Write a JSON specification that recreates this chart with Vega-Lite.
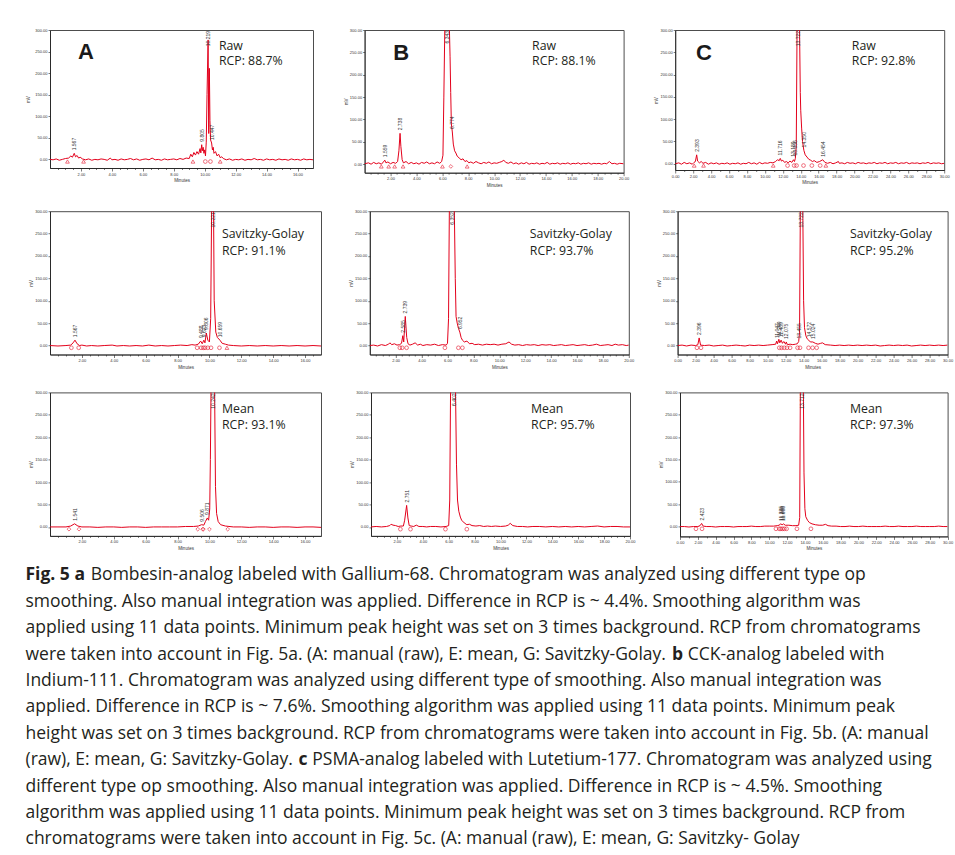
{
"$schema":"https://vega.github.io/schema/vega-lite/v6.json",
"background":"white",
"padding":{"left":25,"top":27,"right":5,"bottom":5},
"spacing":20.2,
"datasets":{
"a1":[{"t":0,"v":0},{"t":0.2,"v":-1},{"t":0.4,"v":1},{"t":0.6,"v":-2},{"t":0.8,"v":0},{"t":1,"v":2},{"t":1.2,"v":3},{"t":1.35,"v":8},{"t":1.45,"v":5},{"t":1.567,"v":14},{"t":1.65,"v":6},{"t":1.75,"v":9},{"t":1.85,"v":3},{"t":1.95,"v":5},{"t":2.1,"v":1},{"t":2.3,"v":-1},{"t":2.5,"v":1},{"t":2.7,"v":-2},{"t":2.9,"v":0},{"t":3.1,"v":-1},{"t":3.3,"v":1},{"t":3.5,"v":0},{"t":3.7,"v":-2},{"t":3.9,"v":3},{"t":4,"v":-1},{"t":4.2,"v":0},{"t":4.4,"v":-2},{"t":4.6,"v":1},{"t":4.8,"v":-1},{"t":5,"v":0},{"t":5.2,"v":2},{"t":5.4,"v":-1},{"t":5.6,"v":1},{"t":5.8,"v":-2},{"t":6,"v":0},{"t":6.2,"v":1},{"t":6.4,"v":-1},{"t":6.6,"v":3},{"t":6.8,"v":-1},{"t":7,"v":0},{"t":7.2,"v":-2},{"t":7.4,"v":1},{"t":7.6,"v":-1},{"t":7.8,"v":0},{"t":8,"v":1},{"t":8.2,"v":-1},{"t":8.4,"v":2},{"t":8.6,"v":0},{"t":8.8,"v":3},{"t":9,"v":2},{"t":9.1,"v":12},{"t":9.2,"v":6},{"t":9.3,"v":16},{"t":9.4,"v":10},{"t":9.5,"v":18},{"t":9.6,"v":12},{"t":9.7,"v":25},{"t":9.75,"v":15},{"t":9.805,"v":34},{"t":9.85,"v":20},{"t":9.9,"v":28},{"t":9.95,"v":14},{"t":10,"v":22},{"t":10.05,"v":8},{"t":10.1,"v":40},{"t":10.15,"v":150},{"t":10.219,"v":277},{"t":10.26,"v":60},{"t":10.3,"v":211},{"t":10.34,"v":90},{"t":10.38,"v":45},{"t":10.447,"v":38},{"t":10.5,"v":22},{"t":10.55,"v":28},{"t":10.6,"v":14},{"t":10.7,"v":18},{"t":10.8,"v":8},{"t":10.9,"v":12},{"t":11,"v":4},{"t":11.1,"v":6},{"t":11.2,"v":2},{"t":11.4,"v":-1},{"t":11.6,"v":1},{"t":11.8,"v":-2},{"t":12,"v":0},{"t":12.2,"v":-1},{"t":12.4,"v":1},{"t":12.6,"v":-2},{"t":12.8,"v":0},{"t":13,"v":-1},{"t":13.2,"v":2},{"t":13.4,"v":-1},{"t":13.6,"v":0},{"t":13.8,"v":-2},{"t":14,"v":1},{"t":14.2,"v":-1},{"t":14.4,"v":0},{"t":14.6,"v":-2},{"t":14.8,"v":1},{"t":15,"v":-1},{"t":15.2,"v":0},{"t":15.4,"v":-2},{"t":15.6,"v":1},{"t":15.8,"v":-1},{"t":16,"v":0},{"t":16.2,"v":-2},{"t":16.4,"v":1},{"t":16.6,"v":-1},{"t":16.8,"v":0},{"t":17,"v":-1}],
"a1m":[{"t":1.13,"v":-5,"k":"T"},{"t":2.17,"v":-5,"k":"T"},{"t":9.24,"v":-5,"k":"T"},{"t":10.04,"v":-5,"k":"C"},{"t":10.37,"v":-5,"k":"C"},{"t":11.0,"v":-5,"k":"T"}],
"a1p":[{"t":1.567,"v":14,"s":"1.567"},{"t":9.805,"v":34,"s":"9.805"},{"t":10.219,"v":300,"s":"10.219"},{"t":10.447,"v":38,"s":"10.447"}],
"a1n":[{"t":10.92,"v":263,"s":"Raw"},{"t":10.92,"v":228,"s":"RCP: 88.7%"}],
"a1l":[{"t":2.33,"v":249,"s":"A"}],
"b1":[{"t":0,"v":1},{"t":0.3,"v":3},{"t":0.5,"v":0},{"t":0.7,"v":4},{"t":0.9,"v":1},{"t":1.1,"v":3},{"t":1.3,"v":0},{"t":1.45,"v":5},{"t":1.559,"v":9},{"t":1.65,"v":3},{"t":1.8,"v":5},{"t":2,"v":1},{"t":2.2,"v":4},{"t":2.4,"v":2},{"t":2.55,"v":6},{"t":2.65,"v":30},{"t":2.738,"v":69},{"t":2.8,"v":40},{"t":2.9,"v":10},{"t":3,"v":3},{"t":3.2,"v":6},{"t":3.4,"v":1},{"t":3.6,"v":4},{"t":3.8,"v":1},{"t":4,"v":3},{"t":4.2,"v":0},{"t":4.4,"v":4},{"t":4.6,"v":2},{"t":4.8,"v":5},{"t":5,"v":1},{"t":5.2,"v":3},{"t":5.4,"v":1},{"t":5.6,"v":5},{"t":5.8,"v":2},{"t":5.95,"v":6},{"t":6.05,"v":20},{"t":6.12,"v":150},{"t":6.2,"v":320},{"t":6.34,"v":420},{"t":6.5,"v":330},{"t":6.55,"v":300},{"t":6.6,"v":240},{"t":6.65,"v":160},{"t":6.7,"v":90},{"t":6.774,"v":72},{"t":6.85,"v":45},{"t":6.95,"v":30},{"t":7.05,"v":25},{"t":7.15,"v":18},{"t":7.3,"v":14},{"t":7.45,"v":10},{"t":7.6,"v":12},{"t":7.75,"v":6},{"t":7.9,"v":8},{"t":8.05,"v":3},{"t":8.2,"v":5},{"t":8.4,"v":2},{"t":8.6,"v":6},{"t":8.8,"v":3},{"t":9,"v":1},{"t":9.2,"v":4},{"t":9.4,"v":2},{"t":9.6,"v":5},{"t":9.8,"v":1},{"t":10,"v":3},{"t":10.2,"v":2},{"t":10.4,"v":4},{"t":10.6,"v":6},{"t":10.75,"v":9},{"t":10.9,"v":4},{"t":11.1,"v":2},{"t":11.3,"v":5},{"t":11.5,"v":1},{"t":11.7,"v":3},{"t":11.9,"v":0},{"t":12.1,"v":3},{"t":12.3,"v":1},{"t":12.5,"v":4},{"t":12.7,"v":0},{"t":12.9,"v":2},{"t":13.1,"v":1},{"t":13.3,"v":3},{"t":13.5,"v":0},{"t":13.7,"v":2},{"t":13.9,"v":1},{"t":14.1,"v":4},{"t":14.3,"v":0},{"t":14.5,"v":2},{"t":14.7,"v":1},{"t":14.9,"v":3},{"t":15.1,"v":0},{"t":15.3,"v":2},{"t":15.5,"v":1},{"t":15.7,"v":3},{"t":15.9,"v":0},{"t":16.1,"v":2},{"t":16.3,"v":1},{"t":16.5,"v":3},{"t":16.7,"v":0},{"t":16.9,"v":2},{"t":17.1,"v":1},{"t":17.3,"v":3},{"t":17.5,"v":0},{"t":17.7,"v":2},{"t":17.9,"v":1},{"t":18.1,"v":2},{"t":18.3,"v":0},{"t":18.5,"v":2},{"t":18.7,"v":1},{"t":18.9,"v":6},{"t":19.1,"v":1},{"t":19.3,"v":2},{"t":19.5,"v":0},{"t":19.7,"v":2},{"t":20,"v":1}],
"b1m":[{"t":1.29,"v":-5,"k":"T"},{"t":1.86,"v":-5,"k":"T"},{"t":2.32,"v":-5,"k":"T"},{"t":2.97,"v":-5,"k":"T"},{"t":6.01,"v":-5,"k":"T"},{"t":6.66,"v":-5,"k":"D"},{"t":7.92,"v":-5,"k":"T"}],
"b1p":[{"t":1.559,"v":9,"s":"1.559"},{"t":2.738,"v":69,"s":"2.738"},{"t":6.343,"v":300,"s":"6.343"},{"t":6.774,"v":72,"s":"6.774"}],
"b1n":[{"t":12.93,"v":264,"s":"Raw"},{"t":12.93,"v":230.7,"s":"RCP: 88.1%"}],
"b1l":[{"t":2.83,"v":248.6,"s":"B"}],
"c1":[{"t":0,"v":0},{"t":0.4,"v":2},{"t":0.7,"v":-1},{"t":1,"v":3},{"t":1.3,"v":0},{"t":1.6,"v":2},{"t":1.9,"v":-1},{"t":2.1,"v":3},{"t":2.25,"v":5},{"t":2.393,"v":20},{"t":2.5,"v":6},{"t":2.7,"v":2},{"t":2.9,"v":5},{"t":3.1,"v":1},{"t":3.4,"v":3},{"t":3.7,"v":-1},{"t":4,"v":2},{"t":4.3,"v":0},{"t":4.6,"v":2},{"t":4.9,"v":-1},{"t":5.2,"v":1},{"t":5.5,"v":0},{"t":5.8,"v":2},{"t":6.1,"v":-1},{"t":6.4,"v":1},{"t":6.7,"v":0},{"t":7,"v":2},{"t":7.3,"v":-1},{"t":7.6,"v":1},{"t":7.9,"v":0},{"t":8.2,"v":3},{"t":8.5,"v":0},{"t":8.8,"v":2},{"t":9.1,"v":-1},{"t":9.4,"v":3},{"t":9.7,"v":0},{"t":10,"v":2},{"t":10.3,"v":1},{"t":10.6,"v":3},{"t":10.9,"v":2},{"t":11.2,"v":5},{"t":11.4,"v":9},{"t":11.6,"v":7},{"t":11.716,"v":12},{"t":11.85,"v":6},{"t":12,"v":8},{"t":12.2,"v":3},{"t":12.4,"v":5},{"t":12.6,"v":2},{"t":12.8,"v":6},{"t":13,"v":3},{"t":13.189,"v":9},{"t":13.3,"v":5},{"t":13.4,"v":12},{"t":13.5,"v":40},{"t":13.6,"v":330},{"t":13.72,"v":450},{"t":13.85,"v":330},{"t":13.95,"v":160},{"t":14,"v":120},{"t":14.1,"v":80},{"t":14.2,"v":50},{"t":14.35,"v":30},{"t":14.5,"v":20},{"t":14.7,"v":15},{"t":14.9,"v":10},{"t":15.1,"v":8},{"t":15.3,"v":5},{"t":15.5,"v":7},{"t":15.8,"v":3},{"t":16.1,"v":5},{"t":16.454,"v":9},{"t":16.7,"v":3},{"t":17,"v":1},{"t":17.3,"v":3},{"t":17.6,"v":0},{"t":17.9,"v":2},{"t":18.2,"v":5},{"t":18.3,"v":1},{"t":18.6,"v":2},{"t":18.9,"v":0},{"t":19.2,"v":3},{"t":19.5,"v":1},{"t":19.8,"v":2},{"t":20.1,"v":0},{"t":20.4,"v":3},{"t":20.7,"v":1},{"t":21,"v":2},{"t":21.3,"v":0},{"t":21.6,"v":2},{"t":21.9,"v":1},{"t":22.2,"v":3},{"t":22.5,"v":0},{"t":22.8,"v":2},{"t":23.1,"v":1},{"t":23.4,"v":3},{"t":23.7,"v":0},{"t":24,"v":2},{"t":24.3,"v":1},{"t":24.6,"v":3},{"t":24.9,"v":0},{"t":25.2,"v":2},{"t":25.5,"v":1},{"t":25.8,"v":3},{"t":26.1,"v":0},{"t":26.4,"v":2},{"t":26.7,"v":1},{"t":27,"v":2},{"t":27.3,"v":0},{"t":27.6,"v":2},{"t":27.9,"v":1},{"t":28.2,"v":3},{"t":28.5,"v":0},{"t":28.8,"v":2},{"t":29.1,"v":1},{"t":29.4,"v":2},{"t":29.7,"v":0},{"t":30,"v":1}],
"c1m":[{"t":2.12,"v":-4,"k":"T"},{"t":3.16,"v":-4,"k":"T"},{"t":10.93,"v":-4,"k":"T"},{"t":12.53,"v":-4,"k":"C"},{"t":13.27,"v":-4,"k":"C"},{"t":13.53,"v":-4,"k":"C"},{"t":14.31,"v":-4,"k":"C"},{"t":15.24,"v":-4,"k":"C"},{"t":16.17,"v":-4,"k":"C"},{"t":16.8,"v":-4,"k":"T"}],
"c1p":[{"t":2.393,"v":20,"s":"2.393"},{"t":11.716,"v":12,"s":"11.716"},{"t":13.189,"v":9,"s":"13.189"},{"t":13.4,"v":12,"s":"13.356"},{"t":13.722,"v":300,"s":"13.722"},{"t":14.35,"v":30,"s":"14.350"},{"t":16.454,"v":9,"s":"16.454"}],
"c1n":[{"t":19.7,"v":264,"s":"Raw"},{"t":19.7,"v":230.5,"s":"RCP: 92.8%"}],
"c1l":[{"t":3.2,"v":248.4,"s":"C"}],
"a2":[{"t":0,"v":0},{"t":0.5,"v":-1},{"t":1,"v":0},{"t":1.3,"v":1},{"t":1.45,"v":6},{"t":1.567,"v":12},{"t":1.7,"v":4},{"t":1.85,"v":0},{"t":2,"v":1},{"t":2.3,"v":-1},{"t":2.6,"v":0},{"t":3,"v":-1},{"t":3.4,"v":0},{"t":3.9,"v":1},{"t":4.2,"v":-1},{"t":4.6,"v":0},{"t":5,"v":-1},{"t":5.4,"v":0},{"t":5.8,"v":-1},{"t":6.2,"v":1},{"t":6.6,"v":-1},{"t":7,"v":0},{"t":7.4,"v":-1},{"t":7.8,"v":0},{"t":8.2,"v":1},{"t":8.6,"v":0},{"t":8.9,"v":2},{"t":9.1,"v":1},{"t":9.3,"v":3},{"t":9.45,"v":10},{"t":9.55,"v":4},{"t":9.65,"v":12},{"t":9.72,"v":6},{"t":9.806,"v":28},{"t":9.9,"v":12},{"t":10,"v":8},{"t":10.08,"v":60},{"t":10.15,"v":350},{"t":10.25,"v":350},{"t":10.3,"v":100},{"t":10.4,"v":30},{"t":10.5,"v":18},{"t":10.659,"v":12},{"t":10.8,"v":5},{"t":11,"v":3},{"t":11.2,"v":1},{"t":11.5,"v":0},{"t":12,"v":-1},{"t":12.5,"v":0},{"t":13,"v":-1},{"t":13.5,"v":0},{"t":14,"v":-1},{"t":14.5,"v":0},{"t":15,"v":-1},{"t":15.5,"v":0},{"t":16,"v":-1},{"t":16.5,"v":0},{"t":17,"v":-1}],
"a2m":[{"t":1.34,"v":-5,"k":"C"},{"t":1.8,"v":-5,"k":"C"},{"t":9.23,"v":-5,"k":"C"},{"t":9.48,"v":-5,"k":"C"},{"t":9.62,"v":-5,"k":"C"},{"t":9.73,"v":-5,"k":"C"},{"t":9.9,"v":-5,"k":"C"},{"t":10.1,"v":-5,"k":"C"},{"t":10.63,"v":-5,"k":"C"},{"t":11.1,"v":-5,"k":"T"}],
"a2p":[{"t":1.567,"v":12,"s":"1.567"},{"t":9.45,"v":10,"s":"9.488"},{"t":9.65,"v":12,"s":"9.623"},{"t":9.806,"v":28,"s":"9.806"},{"t":10.221,"v":300,"s":"10.221"},{"t":10.659,"v":12,"s":"10.659"}],
"a2n":[{"t":10.79,"v":249.5,"s":"Savitzky-Golay"},{"t":10.79,"v":212,"s":"RCP: 91.1%"}],
"b2":[{"t":0,"v":0},{"t":0.3,"v":1},{"t":0.6,"v":-1},{"t":0.9,"v":2},{"t":1.2,"v":0},{"t":1.45,"v":3},{"t":1.55,"v":6},{"t":1.7,"v":2},{"t":1.9,"v":4},{"t":2.1,"v":1},{"t":2.3,"v":2},{"t":2.45,"v":5},{"t":2.55,"v":22},{"t":2.62,"v":8},{"t":2.739,"v":65},{"t":2.85,"v":18},{"t":2.95,"v":4},{"t":3.1,"v":1},{"t":3.3,"v":3},{"t":3.5,"v":6},{"t":3.7,"v":1},{"t":3.9,"v":3},{"t":4.1,"v":0},{"t":4.4,"v":2},{"t":4.7,"v":1},{"t":5,"v":3},{"t":5.3,"v":0},{"t":5.6,"v":2},{"t":5.9,"v":1},{"t":6,"v":5},{"t":6.08,"v":60},{"t":6.15,"v":330},{"t":6.35,"v":450},{"t":6.52,"v":320},{"t":6.6,"v":150},{"t":6.66,"v":65},{"t":6.75,"v":50},{"t":6.85,"v":38},{"t":6.952,"v":30},{"t":7.05,"v":18},{"t":7.15,"v":12},{"t":7.3,"v":8},{"t":7.5,"v":10},{"t":7.7,"v":4},{"t":7.9,"v":5},{"t":8.1,"v":2},{"t":8.4,"v":3},{"t":8.7,"v":1},{"t":9,"v":3},{"t":9.3,"v":2},{"t":9.6,"v":3},{"t":9.9,"v":1},{"t":10.2,"v":3},{"t":10.5,"v":4},{"t":10.75,"v":8},{"t":10.95,"v":3},{"t":11.2,"v":1},{"t":11.5,"v":2},{"t":11.8,"v":0},{"t":12.1,"v":2},{"t":12.4,"v":1},{"t":12.7,"v":2},{"t":13,"v":0},{"t":13.3,"v":2},{"t":13.6,"v":1},{"t":13.9,"v":2},{"t":14.2,"v":0},{"t":14.5,"v":1},{"t":14.8,"v":2},{"t":15.1,"v":0},{"t":15.4,"v":1},{"t":15.7,"v":2},{"t":16,"v":0},{"t":16.3,"v":1},{"t":16.6,"v":2},{"t":16.9,"v":0},{"t":17.2,"v":1},{"t":17.5,"v":3},{"t":17.8,"v":0},{"t":18.1,"v":1},{"t":18.4,"v":2},{"t":18.7,"v":0},{"t":18.95,"v":3},{"t":19.2,"v":1},{"t":19.5,"v":2},{"t":19.8,"v":0},{"t":20,"v":1}],
"b2m":[{"t":2.32,"v":-5,"k":"C"},{"t":2.5,"v":-5,"k":"C"},{"t":2.84,"v":-5,"k":"C"},{"t":5.8,"v":-5,"k":"C"},{"t":6.84,"v":-5,"k":"C"},{"t":7.15,"v":-5,"k":"C"}],
"b2p":[{"t":2.55,"v":22,"s":"2.585"},{"t":2.739,"v":65,"s":"2.739"},{"t":6.352,"v":300,"s":"6.352"},{"t":6.952,"v":30,"s":"6.952"}],
"b2n":[{"t":12.36,"v":249.5,"s":"Savitzky-Golay"},{"t":12.36,"v":212,"s":"RCP: 93.7%"}],
"c2":[{"t":0,"v":0},{"t":0.5,"v":1},{"t":1,"v":-1},{"t":1.5,"v":1},{"t":2,"v":0},{"t":2.25,"v":2},{"t":2.396,"v":17},{"t":2.55,"v":1},{"t":3,"v":0},{"t":3.5,"v":1},{"t":4,"v":-1},{"t":4.5,"v":0},{"t":5,"v":1},{"t":5.5,"v":-1},{"t":6,"v":0},{"t":6.5,"v":1},{"t":7,"v":0},{"t":7.5,"v":-1},{"t":8,"v":1},{"t":8.5,"v":0},{"t":9,"v":1},{"t":9.5,"v":0},{"t":10,"v":1},{"t":10.5,"v":2},{"t":10.9,"v":3},{"t":11,"v":10},{"t":11.1,"v":4},{"t":11.25,"v":14},{"t":11.35,"v":6},{"t":11.5,"v":12},{"t":11.65,"v":5},{"t":11.8,"v":9},{"t":12,"v":3},{"t":12.075,"v":8},{"t":12.2,"v":2},{"t":12.5,"v":3},{"t":12.8,"v":2},{"t":13.1,"v":3},{"t":13.3,"v":4},{"t":13.455,"v":9},{"t":13.55,"v":30},{"t":13.65,"v":340},{"t":13.78,"v":450},{"t":13.9,"v":330},{"t":14,"v":100},{"t":14.1,"v":40},{"t":14.25,"v":22},{"t":14.4,"v":15},{"t":14.572,"v":12},{"t":14.75,"v":8},{"t":15.024,"v":8},{"t":15.3,"v":5},{"t":15.6,"v":3},{"t":15.9,"v":5},{"t":16.1,"v":6},{"t":16.4,"v":2},{"t":17,"v":1},{"t":17.5,"v":0},{"t":18,"v":1},{"t":18.5,"v":0},{"t":19,"v":1},{"t":19.5,"v":0},{"t":20,"v":1},{"t":20.5,"v":0},{"t":21,"v":1},{"t":21.5,"v":0},{"t":22,"v":1},{"t":22.5,"v":-1},{"t":23,"v":0},{"t":23.5,"v":1},{"t":24,"v":0},{"t":24.5,"v":1},{"t":25,"v":0},{"t":25.5,"v":1},{"t":26,"v":-1},{"t":26.5,"v":0},{"t":27,"v":1},{"t":27.5,"v":0},{"t":28,"v":1},{"t":28.5,"v":0},{"t":29,"v":1},{"t":29.5,"v":0},{"t":30,"v":1}],
"c2m":[{"t":2.15,"v":-5,"k":"C"},{"t":2.6,"v":-5,"k":"C"},{"t":11.3,"v":-5,"k":"C"},{"t":11.55,"v":-5,"k":"C"},{"t":11.85,"v":-5,"k":"C"},{"t":12.15,"v":-5,"k":"C"},{"t":12.5,"v":-5,"k":"C"},{"t":13.33,"v":-5,"k":"C"},{"t":13.6,"v":-5,"k":"C"},{"t":14.55,"v":-5,"k":"C"},{"t":15.0,"v":-5,"k":"C"},{"t":15.45,"v":-5,"k":"C"}],
"c2p":[{"t":2.396,"v":17,"s":"2.396"},{"t":11.0,"v":10,"s":"11.047"},{"t":11.25,"v":14,"s":"11.249"},{"t":11.5,"v":12,"s":"11.489"},{"t":12.075,"v":8,"s":"12.075"},{"t":13.455,"v":9,"s":"13.455"},{"t":13.722,"v":300,"s":"13.722"},{"t":14.572,"v":12,"s":"14.572"},{"t":15.024,"v":8,"s":"15.024"}],
"c2n":[{"t":19.15,"v":249.5,"s":"Savitzky-Golay"},{"t":19.15,"v":212,"s":"RCP: 95.2%"}],
"a3":[{"t":0,"v":0},{"t":0.5,"v":0},{"t":1,"v":0},{"t":1.3,"v":2},{"t":1.541,"v":7},{"t":1.75,"v":2},{"t":2,"v":0},{"t":2.5,"v":0},{"t":3,"v":-1},{"t":3.5,"v":0},{"t":4,"v":0},{"t":4.5,"v":-1},{"t":5,"v":0},{"t":5.5,"v":0},{"t":6,"v":-1},{"t":6.5,"v":0},{"t":7,"v":0},{"t":7.5,"v":0},{"t":8,"v":0},{"t":8.5,"v":1},{"t":9,"v":1},{"t":9.3,"v":2},{"t":9.506,"v":5},{"t":9.65,"v":4},{"t":9.75,"v":12},{"t":9.871,"v":20},{"t":9.95,"v":15},{"t":10.02,"v":40},{"t":10.06,"v":150},{"t":10.12,"v":380},{"t":10.22,"v":450},{"t":10.32,"v":330},{"t":10.38,"v":90},{"t":10.45,"v":30},{"t":10.55,"v":12},{"t":10.7,"v":5},{"t":11,"v":2},{"t":11.5,"v":0},{"t":12,"v":0},{"t":12.5,"v":-1},{"t":13,"v":0},{"t":13.5,"v":0},{"t":14,"v":-1},{"t":14.5,"v":0},{"t":15,"v":0},{"t":15.5,"v":-1},{"t":16,"v":0},{"t":16.5,"v":0},{"t":17,"v":-1}],
"a3m":[{"t":1.19,"v":-5,"k":"D"},{"t":1.82,"v":-5,"k":"D"},{"t":9.27,"v":-5,"k":"D"},{"t":9.58,"v":-5,"k":"D"},{"t":9.62,"v":-5,"k":"D"},{"t":10.0,"v":-5,"k":"D"},{"t":11.15,"v":-5,"k":"D"}],
"a3p":[{"t":1.541,"v":7,"s":"1.541"},{"t":9.506,"v":5,"s":"9.506"},{"t":9.871,"v":20,"s":"9.871"},{"t":10.242,"v":300,"s":"10.242"}],
"a3n":[{"t":10.79,"v":264,"s":"Mean"},{"t":10.79,"v":227,"s":"RCP: 93.1%"}],
"b3":[{"t":0,"v":0},{"t":0.4,"v":1},{"t":0.8,"v":0},{"t":1.2,"v":1},{"t":1.45,"v":3},{"t":1.55,"v":6},{"t":1.7,"v":4},{"t":1.9,"v":3},{"t":2.1,"v":1},{"t":2.3,"v":2},{"t":2.5,"v":2},{"t":2.6,"v":15},{"t":2.751,"v":48},{"t":2.85,"v":20},{"t":2.95,"v":3},{"t":3.1,"v":2},{"t":3.3,"v":1},{"t":3.5,"v":4},{"t":3.7,"v":1},{"t":4,"v":1},{"t":4.3,"v":0},{"t":4.6,"v":1},{"t":5,"v":1},{"t":5.4,"v":0},{"t":5.8,"v":1},{"t":6,"v":3},{"t":6.08,"v":60},{"t":6.15,"v":330},{"t":6.35,"v":450},{"t":6.52,"v":320},{"t":6.6,"v":140},{"t":6.68,"v":60},{"t":6.78,"v":35},{"t":6.9,"v":22},{"t":7,"v":15},{"t":7.2,"v":9},{"t":7.4,"v":5},{"t":7.6,"v":6},{"t":7.8,"v":3},{"t":8.1,"v":2},{"t":8.4,"v":3},{"t":8.7,"v":1},{"t":9,"v":2},{"t":9.3,"v":1},{"t":9.6,"v":2},{"t":10,"v":1},{"t":10.4,"v":2},{"t":10.6,"v":4},{"t":10.75,"v":8},{"t":10.95,"v":3},{"t":11.3,"v":1},{"t":11.7,"v":1},{"t":12.1,"v":0},{"t":12.5,"v":1},{"t":13,"v":1},{"t":13.5,"v":0},{"t":14,"v":1},{"t":14.5,"v":0},{"t":15,"v":1},{"t":15.5,"v":0},{"t":16,"v":1},{"t":16.5,"v":0},{"t":17,"v":1},{"t":17.5,"v":2},{"t":18,"v":0},{"t":18.5,"v":1},{"t":19,"v":1},{"t":19.5,"v":0},{"t":20,"v":0}],
"b3m":[{"t":2.27,"v":-5,"k":"C"},{"t":3.05,"v":-5,"k":"C"},{"t":5.75,"v":-5,"k":"C"},{"t":7.4,"v":-5,"k":"C"}],
"b3p":[{"t":2.751,"v":48,"s":"2.751"},{"t":6.402,"v":300,"s":"6.402"}],
"b3n":[{"t":12.36,"v":264,"s":"Mean"},{"t":12.36,"v":227,"s":"RCP: 95.7%"}],
"c3":[{"t":0,"v":0},{"t":0.5,"v":0},{"t":1,"v":-1},{"t":1.5,"v":0},{"t":2,"v":0},{"t":2.25,"v":2},{"t":2.423,"v":7},{"t":2.6,"v":1},{"t":3,"v":0},{"t":3.5,"v":0},{"t":4,"v":-1},{"t":4.5,"v":0},{"t":5,"v":0},{"t":5.5,"v":0},{"t":6,"v":-1},{"t":6.5,"v":0},{"t":7,"v":0},{"t":7.5,"v":0},{"t":8,"v":1},{"t":8.5,"v":0},{"t":9,"v":0},{"t":9.5,"v":1},{"t":10,"v":1},{"t":10.5,"v":1},{"t":10.9,"v":2},{"t":11.1,"v":3},{"t":11.3,"v":6},{"t":11.45,"v":4},{"t":11.6,"v":6},{"t":11.8,"v":3},{"t":12.2,"v":3},{"t":12.6,"v":2},{"t":13,"v":2},{"t":13.3,"v":3},{"t":13.42,"v":20},{"t":13.5,"v":330},{"t":13.65,"v":450},{"t":13.82,"v":330},{"t":13.9,"v":120},{"t":14,"v":40},{"t":14.1,"v":22},{"t":14.3,"v":14},{"t":14.5,"v":9},{"t":14.8,"v":6},{"t":15.2,"v":4},{"t":15.6,"v":3},{"t":16,"v":3},{"t":16.3,"v":5},{"t":16.6,"v":2},{"t":17,"v":1},{"t":17.5,"v":1},{"t":18,"v":0},{"t":18.5,"v":0},{"t":19,"v":1},{"t":19.5,"v":0},{"t":20,"v":0},{"t":20.5,"v":1},{"t":21,"v":0},{"t":21.5,"v":0},{"t":22,"v":0},{"t":22.5,"v":0},{"t":23,"v":1},{"t":23.5,"v":0},{"t":24,"v":0},{"t":24.5,"v":1},{"t":25,"v":0},{"t":25.5,"v":0},{"t":26,"v":0},{"t":26.5,"v":1},{"t":27,"v":0},{"t":27.5,"v":0},{"t":28,"v":0},{"t":28.5,"v":0},{"t":29,"v":1},{"t":29.5,"v":0},{"t":30,"v":0}],
"c3m":[{"t":1.79,"v":-5,"k":"C"},{"t":2.47,"v":-5,"k":"C"},{"t":10.76,"v":-5,"k":"C"},{"t":11.13,"v":-5,"k":"C"},{"t":11.3,"v":-5,"k":"C"},{"t":11.5,"v":-5,"k":"C"},{"t":11.7,"v":-5,"k":"C"},{"t":11.95,"v":-5,"k":"C"},{"t":13.11,"v":-5,"k":"C"},{"t":14.68,"v":-5,"k":"C"}],
"c3p":[{"t":2.423,"v":7,"s":"2.423"},{"t":11.3,"v":6,"s":"11.335"},{"t":11.4,"v":6,"s":"11.366"},{"t":11.6,"v":6,"s":"11.608"},{"t":13.712,"v":300,"s":"13.712"}],
"c3n":[{"t":19.06,"v":263,"s":"Mean"},{"t":19.06,"v":226,"s":"RCP: 97.3%"}],
"cap":[
{"line":1,"seg":"b0","text":"Fig. 5 a"},
{"line":1,"seg":"n1","text":"Bombesin-analog labeled with Gallium-68. Chromatogram was analyzed using different type op"},
{"line":2,"seg":"n0","text":"smoothing. Also manual integration was applied. Difference in RCP is ~ 4.4%. Smoothing algorithm was"},
{"line":3,"seg":"n0","text":"applied using 11 data points. Minimum peak height was set on 3 times background. RCP from chromatograms"},
{"line":4,"seg":"n0","text":"were taken into account in Fig. 5a. (A: manual (raw), E: mean, G: Savitzky-Golay."},
{"line":4,"seg":"bb","text":"b"},
{"line":4,"seg":"nb","text":"CCK-analog labeled with"},
{"line":5,"seg":"n0","text":"Indium-111. Chromatogram was analyzed using different type of smoothing. Also manual integration was"},
{"line":6,"seg":"n0","text":"applied. Difference in RCP is ~ 7.6%. Smoothing algorithm was applied using 11 data points. Minimum peak"},
{"line":7,"seg":"n0","text":"height was set on 3 times background. RCP from chromatograms were taken into account in Fig. 5b. (A: manual"},
{"line":8,"seg":"n0","text":"(raw), E: mean, G: Savitzky-Golay."},
{"line":8,"seg":"bc","text":"c"},
{"line":8,"seg":"nc","text":"PSMA-analog labeled with Lutetium-177. Chromatogram was analyzed using"},
{"line":9,"seg":"n0","text":"different type op smoothing. Also manual integration was applied. Difference in RCP is ~ 4.5%. Smoothing"},
{"line":10,"seg":"n0","text":"algorithm was applied using 11 data points. Minimum peak height was set on 3 times background. RCP from"},
{"line":11,"seg":"n0","text":"chromatograms were taken into account in Fig. 5c. (A: manual (raw), E: mean, G: Savitzky- Golay"}
]
},
"vconcat":[
{"bounds":"flush","spacing":51.6,"hconcat":[
{"width":263,"height":138,"layer":[
{"data":{"name":"a1"},"mark":{"type":"line","color":"#e3001b","strokeWidth":1,"clip":true},"encoding":{"x":{"field":"t","type":"quantitative","scale":{"domain":[0,17],"nice":false,"zero":false},"axis":{"title":"Minutes","tickCount":100,"values":[0.5,1,1.5,2,2.5,3,3.5,4,4.5,5,5.5,6,6.5,7,7.5,8,8.5,9,9.5,10,10.5,11,11.5,12,12.5,13,13.5,14,14.5,15,15.5,16,16.5],"labelExpr":"datum.value % 2 === 0 ? format(datum.value, '.2f') : ''","tickSize":{"condition":{"test":"datum.value % 2 === 0","value":3},"value":1.5}}},"y":{"field":"v","type":"quantitative","scale":{"domain":[-20,300],"nice":false,"zero":false},"axis":{"title":"mV","tickCount":100,"titlePadding":4,"values":[0,50,100,150,200,250,300],"format":".2f"}}}},
{"data":{"name":"a1m"},"mark":{"type":"point","filled":false,"color":"#e3001b","size":14,"strokeWidth":0.8},"encoding":{"x":{"field":"t","type":"quantitative"},"y":{"field":"v","type":"quantitative"},"shape":{"field":"k","type":"nominal","scale":{"domain":["T","C","D"],"range":["triangle-up","circle","diamond"]},"legend":null}}},
{"data":{"name":"a1p"},"transform":[{"filter":"datum.v < 300"}],"mark":{"type":"text","angle":270,"align":"left","baseline":"middle","dx":3,"fontSize":5,"font":"Liberation Sans","color":"#333"},"encoding":{"x":{"field":"t","type":"quantitative"},"y":{"field":"v","type":"quantitative"},"text":{"field":"s","type":"nominal"}}},
{"data":{"name":"a1p"},"transform":[{"filter":"datum.v >= 300"}],"mark":{"type":"text","angle":270,"align":"right","baseline":"middle","dx":-1,"fontSize":5,"font":"Liberation Sans","color":"#333"},"encoding":{"x":{"field":"t","type":"quantitative"},"y":{"field":"v","type":"quantitative"},"text":{"field":"s","type":"nominal"}}},
{"data":{"name":"a1n"},"mark":{"type":"text","align":"left","baseline":"middle","fontSize":12.3,"font":"Open Sans","color":"#231f20"},"encoding":{"x":{"field":"t","type":"quantitative"},"y":{"field":"v","type":"quantitative"},"text":{"field":"s","type":"nominal"}}},
{"data":{"name":"a1l"},"mark":{"type":"text","align":"center","baseline":"middle","fontSize":22,"fontWeight":"bold","font":"Liberation Sans","color":"#1a1a1a"},"encoding":{"x":{"field":"t","type":"quantitative"},"y":{"field":"v","type":"quantitative"},"text":{"field":"s","type":"nominal"}}}
]},
{"width":259,"height":142.7,"layer":[
{"data":{"name":"b1"},"mark":{"type":"line","color":"#e3001b","strokeWidth":1,"clip":true},"encoding":{"x":{"field":"t","type":"quantitative","scale":{"domain":[0,20],"nice":false,"zero":false},"axis":{"title":"Minutes","tickCount":100,"values":[0.5,1,1.5,2,2.5,3,3.5,4,4.5,5,5.5,6,6.5,7,7.5,8,8.5,9,9.5,10,10.5,11,11.5,12,12.5,13,13.5,14,14.5,15,15.5,16,16.5,17,17.5,18,18.5,19,19.5,20],"labelExpr":"datum.value % 2 === 0 ? format(datum.value, '.2f') : ''","tickSize":{"condition":{"test":"datum.value % 2 === 0","value":3},"value":1.5}}},"y":{"field":"v","type":"quantitative","scale":{"domain":[-19,300],"nice":false,"zero":false},"axis":{"title":"mV","tickCount":100,"values":[0,50,100,150,200,250,300],"format":".2f"}}}},
{"data":{"name":"b1m"},"mark":{"type":"point","filled":false,"color":"#e3001b","size":14,"strokeWidth":0.8},"encoding":{"x":{"field":"t","type":"quantitative"},"y":{"field":"v","type":"quantitative"},"shape":{"field":"k","type":"nominal","scale":{"domain":["T","C","D"],"range":["triangle-up","circle","diamond"]},"legend":null}}},
{"data":{"name":"b1p"},"transform":[{"filter":"datum.v < 300"}],"mark":{"type":"text","angle":270,"align":"left","baseline":"middle","dx":3,"fontSize":5,"font":"Liberation Sans","color":"#333"},"encoding":{"x":{"field":"t","type":"quantitative"},"y":{"field":"v","type":"quantitative"},"text":{"field":"s","type":"nominal"}}},
{"data":{"name":"b1p"},"transform":[{"filter":"datum.v >= 300"}],"mark":{"type":"text","angle":270,"align":"right","baseline":"middle","dx":-1,"fontSize":5,"font":"Liberation Sans","color":"#333"},"encoding":{"x":{"field":"t","type":"quantitative"},"y":{"field":"v","type":"quantitative"},"text":{"field":"s","type":"nominal"}}},
{"data":{"name":"b1n"},"mark":{"type":"text","align":"left","baseline":"middle","fontSize":12.3,"font":"Open Sans","color":"#231f20"},"encoding":{"x":{"field":"t","type":"quantitative"},"y":{"field":"v","type":"quantitative"},"text":{"field":"s","type":"nominal"}}},
{"data":{"name":"b1l"},"mark":{"type":"text","align":"center","baseline":"middle","fontSize":22,"fontWeight":"bold","font":"Liberation Sans","color":"#1a1a1a"},"encoding":{"x":{"field":"t","type":"quantitative"},"y":{"field":"v","type":"quantitative"},"text":{"field":"s","type":"nominal"}}}
]},
{"width":269,"height":140,"layer":[
{"data":{"name":"c1"},"mark":{"type":"line","color":"#e3001b","strokeWidth":1,"clip":true},"encoding":{"x":{"field":"t","type":"quantitative","scale":{"domain":[0,30],"nice":false,"zero":false},"axis":{"title":"Minutes","tickCount":100,"values":[0,1,2,3,4,5,6,7,8,9,10,11,12,13,14,15,16,17,18,19,20,21,22,23,24,25,26,27,28,29,30],"labelExpr":"datum.value % 2 === 0 ? format(datum.value, '.2f') : ''","tickSize":{"condition":{"test":"datum.value % 2 === 0","value":3},"value":1.5}}},"y":{"field":"v","type":"quantitative","scale":{"domain":[-14,300],"nice":false,"zero":false},"axis":{"title":"mV","tickCount":100,"values":[0,50,100,150,200,250,300],"format":".2f"}}}},
{"data":{"name":"c1m"},"mark":{"type":"point","filled":false,"color":"#e3001b","size":14,"strokeWidth":0.8},"encoding":{"x":{"field":"t","type":"quantitative"},"y":{"field":"v","type":"quantitative"},"shape":{"field":"k","type":"nominal","scale":{"domain":["T","C","D"],"range":["triangle-up","circle","diamond"]},"legend":null}}},
{"data":{"name":"c1p"},"transform":[{"filter":"datum.v < 300"}],"mark":{"type":"text","angle":270,"align":"left","baseline":"middle","dx":3,"fontSize":5,"font":"Liberation Sans","color":"#333"},"encoding":{"x":{"field":"t","type":"quantitative"},"y":{"field":"v","type":"quantitative"},"text":{"field":"s","type":"nominal"}}},
{"data":{"name":"c1p"},"transform":[{"filter":"datum.v >= 300"}],"mark":{"type":"text","angle":270,"align":"right","baseline":"middle","dx":-1,"fontSize":5,"font":"Liberation Sans","color":"#333"},"encoding":{"x":{"field":"t","type":"quantitative"},"y":{"field":"v","type":"quantitative"},"text":{"field":"s","type":"nominal"}}},
{"data":{"name":"c1n"},"mark":{"type":"text","align":"left","baseline":"middle","fontSize":12.3,"font":"Open Sans","color":"#231f20"},"encoding":{"x":{"field":"t","type":"quantitative"},"y":{"field":"v","type":"quantitative"},"text":{"field":"s","type":"nominal"}}},
{"data":{"name":"c1l"},"mark":{"type":"text","align":"center","baseline":"middle","fontSize":22,"fontWeight":"bold","font":"Liberation Sans","color":"#1a1a1a"},"encoding":{"x":{"field":"t","type":"quantitative"},"y":{"field":"v","type":"quantitative"},"text":{"field":"s","type":"nominal"}}}
]}
]},
{"bounds":"flush","spacing":48.8,"hconcat":[
{"width":271,"height":143.3,"layer":[
{"data":{"name":"a2"},"mark":{"type":"line","color":"#e3001b","strokeWidth":1,"clip":true},"encoding":{"x":{"field":"t","type":"quantitative","scale":{"domain":[0,17],"nice":false,"zero":false},"axis":{"title":"Minutes","tickCount":100,"values":[0.5,1,1.5,2,2.5,3,3.5,4,4.5,5,5.5,6,6.5,7,7.5,8,8.5,9,9.5,10,10.5,11,11.5,12,12.5,13,13.5,14,14.5,15,15.5,16,16.5],"labelExpr":"datum.value % 2 === 0 ? format(datum.value, '.2f') : ''","tickSize":{"condition":{"test":"datum.value % 2 === 0","value":3},"value":1.5}}},"y":{"field":"v","type":"quantitative","scale":{"domain":[-20,300],"nice":false,"zero":false},"axis":{"title":"mV","tickCount":100,"values":[0,50,100,150,200,250,300],"format":".2f"}}}},
{"data":{"name":"a2m"},"mark":{"type":"point","filled":false,"color":"#e3001b","size":14,"strokeWidth":0.8},"encoding":{"x":{"field":"t","type":"quantitative"},"y":{"field":"v","type":"quantitative"},"shape":{"field":"k","type":"nominal","scale":{"domain":["T","C","D"],"range":["triangle-up","circle","diamond"]},"legend":null}}},
{"data":{"name":"a2p"},"transform":[{"filter":"datum.v < 300"}],"mark":{"type":"text","angle":270,"align":"left","baseline":"middle","dx":3,"fontSize":5,"font":"Liberation Sans","color":"#333"},"encoding":{"x":{"field":"t","type":"quantitative"},"y":{"field":"v","type":"quantitative"},"text":{"field":"s","type":"nominal"}}},
{"data":{"name":"a2p"},"transform":[{"filter":"datum.v >= 300"}],"mark":{"type":"text","angle":270,"align":"right","baseline":"middle","dx":-1,"fontSize":5,"font":"Liberation Sans","color":"#333"},"encoding":{"x":{"field":"t","type":"quantitative"},"y":{"field":"v","type":"quantitative"},"text":{"field":"s","type":"nominal"}}},
{"data":{"name":"a2n"},"mark":{"type":"text","align":"left","baseline":"middle","fontSize":12.3,"font":"Open Sans","color":"#231f20"},"encoding":{"x":{"field":"t","type":"quantitative"},"y":{"field":"v","type":"quantitative"},"text":{"field":"s","type":"nominal"}}}
]},
{"width":259,"height":143.3,"layer":[
{"data":{"name":"b2"},"mark":{"type":"line","color":"#e3001b","strokeWidth":1,"clip":true},"encoding":{"x":{"field":"t","type":"quantitative","scale":{"domain":[0,20],"nice":false,"zero":false},"axis":{"title":"Minutes","tickCount":100,"values":[0.5,1,1.5,2,2.5,3,3.5,4,4.5,5,5.5,6,6.5,7,7.5,8,8.5,9,9.5,10,10.5,11,11.5,12,12.5,13,13.5,14,14.5,15,15.5,16,16.5,17,17.5,18,18.5,19,19.5,20],"labelExpr":"datum.value % 2 === 0 ? format(datum.value, '.2f') : ''","tickSize":{"condition":{"test":"datum.value % 2 === 0","value":3},"value":1.5}}},"y":{"field":"v","type":"quantitative","scale":{"domain":[-20,300],"nice":false,"zero":false},"axis":{"title":"mV","tickCount":100,"values":[0,50,100,150,200,250,300],"format":".2f"}}}},
{"data":{"name":"b2m"},"mark":{"type":"point","filled":false,"color":"#e3001b","size":14,"strokeWidth":0.8},"encoding":{"x":{"field":"t","type":"quantitative"},"y":{"field":"v","type":"quantitative"},"shape":{"field":"k","type":"nominal","scale":{"domain":["T","C","D"],"range":["triangle-up","circle","diamond"]},"legend":null}}},
{"data":{"name":"b2p"},"transform":[{"filter":"datum.v < 300"}],"mark":{"type":"text","angle":270,"align":"left","baseline":"middle","dx":3,"fontSize":5,"font":"Liberation Sans","color":"#333"},"encoding":{"x":{"field":"t","type":"quantitative"},"y":{"field":"v","type":"quantitative"},"text":{"field":"s","type":"nominal"}}},
{"data":{"name":"b2p"},"transform":[{"filter":"datum.v >= 300"}],"mark":{"type":"text","angle":270,"align":"right","baseline":"middle","dx":-1,"fontSize":5,"font":"Liberation Sans","color":"#333"},"encoding":{"x":{"field":"t","type":"quantitative"},"y":{"field":"v","type":"quantitative"},"text":{"field":"s","type":"nominal"}}},
{"data":{"name":"b2n"},"mark":{"type":"text","align":"left","baseline":"middle","fontSize":12.3,"font":"Open Sans","color":"#231f20"},"encoding":{"x":{"field":"t","type":"quantitative"},"y":{"field":"v","type":"quantitative"},"text":{"field":"s","type":"nominal"}}}
]},
{"width":270,"height":143.3,"layer":[
{"data":{"name":"c2"},"mark":{"type":"line","color":"#e3001b","strokeWidth":1,"clip":true},"encoding":{"x":{"field":"t","type":"quantitative","scale":{"domain":[0,30],"nice":false,"zero":false},"axis":{"title":"Minutes","tickCount":100,"values":[0,1,2,3,4,5,6,7,8,9,10,11,12,13,14,15,16,17,18,19,20,21,22,23,24,25,26,27,28,29,30],"labelExpr":"datum.value % 2 === 0 ? format(datum.value, '.2f') : ''","tickSize":{"condition":{"test":"datum.value % 2 === 0","value":3},"value":1.5}}},"y":{"field":"v","type":"quantitative","scale":{"domain":[-20,300],"nice":false,"zero":false},"axis":{"title":"mV","tickCount":100,"values":[0,50,100,150,200,250,300],"format":".2f"}}}},
{"data":{"name":"c2m"},"mark":{"type":"point","filled":false,"color":"#e3001b","size":14,"strokeWidth":0.8},"encoding":{"x":{"field":"t","type":"quantitative"},"y":{"field":"v","type":"quantitative"},"shape":{"field":"k","type":"nominal","scale":{"domain":["T","C","D"],"range":["triangle-up","circle","diamond"]},"legend":null}}},
{"data":{"name":"c2p"},"transform":[{"filter":"datum.v < 300"}],"mark":{"type":"text","angle":270,"align":"left","baseline":"middle","dx":3,"fontSize":5,"font":"Liberation Sans","color":"#333"},"encoding":{"x":{"field":"t","type":"quantitative"},"y":{"field":"v","type":"quantitative"},"text":{"field":"s","type":"nominal"}}},
{"data":{"name":"c2p"},"transform":[{"filter":"datum.v >= 300"}],"mark":{"type":"text","angle":270,"align":"right","baseline":"middle","dx":-1,"fontSize":5,"font":"Liberation Sans","color":"#333"},"encoding":{"x":{"field":"t","type":"quantitative"},"y":{"field":"v","type":"quantitative"},"text":{"field":"s","type":"nominal"}}},
{"data":{"name":"c2n"},"mark":{"type":"text","align":"left","baseline":"middle","fontSize":12.3,"font":"Open Sans","color":"#231f20"},"encoding":{"x":{"field":"t","type":"quantitative"},"y":{"field":"v","type":"quantitative"},"text":{"field":"s","type":"nominal"}}}
]}
]},
{"spacing":15,"vconcat":[
{"bounds":"flush","spacing":50,"hconcat":[
{"width":271,"height":143.5,"layer":[
{"data":{"name":"a3"},"mark":{"type":"line","color":"#e3001b","strokeWidth":1,"clip":true},"encoding":{"x":{"field":"t","type":"quantitative","scale":{"domain":[0,17],"nice":false,"zero":false},"axis":{"title":"Minutes","tickCount":100,"values":[0.5,1,1.5,2,2.5,3,3.5,4,4.5,5,5.5,6,6.5,7,7.5,8,8.5,9,9.5,10,10.5,11,11.5,12,12.5,13,13.5,14,14.5,15,15.5,16,16.5],"labelExpr":"datum.value % 2 === 0 ? format(datum.value, '.2f') : ''","tickSize":{"condition":{"test":"datum.value % 2 === 0","value":3},"value":1.5}}},"y":{"field":"v","type":"quantitative","scale":{"domain":[-20,300],"nice":false,"zero":false},"axis":{"title":"mV","tickCount":100,"values":[0,50,100,150,200,250,300],"format":".2f"}}}},
{"data":{"name":"a3m"},"mark":{"type":"point","filled":false,"color":"#e3001b","size":14,"strokeWidth":0.8},"encoding":{"x":{"field":"t","type":"quantitative"},"y":{"field":"v","type":"quantitative"},"shape":{"field":"k","type":"nominal","scale":{"domain":["T","C","D"],"range":["triangle-up","circle","diamond"]},"legend":null}}},
{"data":{"name":"a3p"},"transform":[{"filter":"datum.v < 300"}],"mark":{"type":"text","angle":270,"align":"left","baseline":"middle","dx":3,"fontSize":5,"font":"Liberation Sans","color":"#333"},"encoding":{"x":{"field":"t","type":"quantitative"},"y":{"field":"v","type":"quantitative"},"text":{"field":"s","type":"nominal"}}},
{"data":{"name":"a3p"},"transform":[{"filter":"datum.v >= 300"}],"mark":{"type":"text","angle":270,"align":"right","baseline":"middle","dx":-1,"fontSize":5,"font":"Liberation Sans","color":"#333"},"encoding":{"x":{"field":"t","type":"quantitative"},"y":{"field":"v","type":"quantitative"},"text":{"field":"s","type":"nominal"}}},
{"data":{"name":"a3n"},"mark":{"type":"text","align":"left","baseline":"middle","fontSize":12.3,"font":"Open Sans","color":"#231f20"},"encoding":{"x":{"field":"t","type":"quantitative"},"y":{"field":"v","type":"quantitative"},"text":{"field":"s","type":"nominal"}}}
]},
{"width":259,"height":143.5,"layer":[
{"data":{"name":"b3"},"mark":{"type":"line","color":"#e3001b","strokeWidth":1,"clip":true},"encoding":{"x":{"field":"t","type":"quantitative","scale":{"domain":[0,20],"nice":false,"zero":false},"axis":{"title":"Minutes","tickCount":100,"values":[0.5,1,1.5,2,2.5,3,3.5,4,4.5,5,5.5,6,6.5,7,7.5,8,8.5,9,9.5,10,10.5,11,11.5,12,12.5,13,13.5,14,14.5,15,15.5,16,16.5,17,17.5,18,18.5,19,19.5,20],"labelExpr":"datum.value % 2 === 0 ? format(datum.value, '.2f') : ''","tickSize":{"condition":{"test":"datum.value % 2 === 0","value":3},"value":1.5}}},"y":{"field":"v","type":"quantitative","scale":{"domain":[-20,300],"nice":false,"zero":false},"axis":{"title":"mV","tickCount":100,"values":[0,50,100,150,200,250,300],"format":".2f"}}}},
{"data":{"name":"b3m"},"mark":{"type":"point","filled":false,"color":"#e3001b","size":14,"strokeWidth":0.8},"encoding":{"x":{"field":"t","type":"quantitative"},"y":{"field":"v","type":"quantitative"},"shape":{"field":"k","type":"nominal","scale":{"domain":["T","C","D"],"range":["triangle-up","circle","diamond"]},"legend":null}}},
{"data":{"name":"b3p"},"transform":[{"filter":"datum.v < 300"}],"mark":{"type":"text","angle":270,"align":"left","baseline":"middle","dx":3,"fontSize":5,"font":"Liberation Sans","color":"#333"},"encoding":{"x":{"field":"t","type":"quantitative"},"y":{"field":"v","type":"quantitative"},"text":{"field":"s","type":"nominal"}}},
{"data":{"name":"b3p"},"transform":[{"filter":"datum.v >= 300"}],"mark":{"type":"text","angle":270,"align":"right","baseline":"middle","dx":-1,"fontSize":5,"font":"Liberation Sans","color":"#333"},"encoding":{"x":{"field":"t","type":"quantitative"},"y":{"field":"v","type":"quantitative"},"text":{"field":"s","type":"nominal"}}},
{"data":{"name":"b3n"},"mark":{"type":"text","align":"left","baseline":"middle","fontSize":12.3,"font":"Open Sans","color":"#231f20"},"encoding":{"x":{"field":"t","type":"quantitative"},"y":{"field":"v","type":"quantitative"},"text":{"field":"s","type":"nominal"}}}
]},
{"width":267.6,"height":144,"layer":[
{"data":{"name":"c3"},"mark":{"type":"line","color":"#e3001b","strokeWidth":1,"clip":true},"encoding":{"x":{"field":"t","type":"quantitative","scale":{"domain":[0,30],"nice":false,"zero":false},"axis":{"title":"Minutes","tickCount":100,"values":[0,1,2,3,4,5,6,7,8,9,10,11,12,13,14,15,16,17,18,19,20,21,22,23,24,25,26,27,28,29,30],"labelExpr":"datum.value % 2 === 0 ? format(datum.value, '.2f') : ''","tickSize":{"condition":{"test":"datum.value % 2 === 0","value":3},"value":1.5}}},"y":{"field":"v","type":"quantitative","scale":{"domain":[-22,300],"nice":false,"zero":false},"axis":{"title":"mV","tickCount":100,"values":[0,50,100,150,200,250,300],"format":".2f"}}}},
{"data":{"name":"c3m"},"mark":{"type":"point","filled":false,"color":"#e3001b","size":14,"strokeWidth":0.8},"encoding":{"x":{"field":"t","type":"quantitative"},"y":{"field":"v","type":"quantitative"},"shape":{"field":"k","type":"nominal","scale":{"domain":["T","C","D"],"range":["triangle-up","circle","diamond"]},"legend":null}}},
{"data":{"name":"c3p"},"transform":[{"filter":"datum.v < 300"}],"mark":{"type":"text","angle":270,"align":"left","baseline":"middle","dx":3,"fontSize":5,"font":"Liberation Sans","color":"#333"},"encoding":{"x":{"field":"t","type":"quantitative"},"y":{"field":"v","type":"quantitative"},"text":{"field":"s","type":"nominal"}}},
{"data":{"name":"c3p"},"transform":[{"filter":"datum.v >= 300"}],"mark":{"type":"text","angle":270,"align":"right","baseline":"middle","dx":-1,"fontSize":5,"font":"Liberation Sans","color":"#333"},"encoding":{"x":{"field":"t","type":"quantitative"},"y":{"field":"v","type":"quantitative"},"text":{"field":"s","type":"nominal"}}},
{"data":{"name":"c3n"},"mark":{"type":"text","align":"left","baseline":"middle","fontSize":12.3,"font":"Open Sans","color":"#231f20"},"encoding":{"x":{"field":"t","type":"quantitative"},"y":{"field":"v","type":"quantitative"},"text":{"field":"s","type":"nominal"}}}
]}
]},
{"width":897,"height":264,"view":{"stroke":null},"data":{"name":"cap"},
"encoding":{"x":{"datum":0,"type":"quantitative","scale":{"domain":[0,1]},"axis":null},"y":{"field":"line","type":"quantitative","scale":{"domain":[1,11],"reverse":true},"axis":null},"text":{"field":"text","type":"nominal"}},
"layer":[
{"transform":[{"filter":"datum.seg === 'n0'"}],"mark":{"type":"text","align":"left","baseline":"middle","font":"Open Sans","fontSize":17.5,"color":"#231f20","dx":-24.5}},
{"transform":[{"filter":"datum.seg === 'b0'"}],"mark":{"type":"text","align":"left","baseline":"middle","font":"Open Sans","fontSize":17.5,"fontWeight":"bold","color":"#231f20","dx":-24.5}},
{"transform":[{"filter":"datum.seg === 'n1'"}],"mark":{"type":"text","align":"left","baseline":"middle","font":"Open Sans","fontSize":17.5,"color":"#231f20","dx":40.8}},
{"transform":[{"filter":"datum.seg === 'bb'"}],"mark":{"type":"text","align":"left","baseline":"middle","font":"Open Sans","fontSize":17.5,"fontWeight":"bold","color":"#231f20","dx":622}},
{"transform":[{"filter":"datum.seg === 'nb'"}],"mark":{"type":"text","align":"left","baseline":"middle","font":"Open Sans","fontSize":17.5,"color":"#231f20","dx":637.7}},
{"transform":[{"filter":"datum.seg === 'bc'"}],"mark":{"type":"text","align":"left","baseline":"middle","font":"Open Sans","fontSize":17.5,"fontWeight":"bold","color":"#231f20","dx":248.5}},
{"transform":[{"filter":"datum.seg === 'nc'"}],"mark":{"type":"text","align":"left","baseline":"middle","font":"Open Sans","fontSize":17.5,"color":"#231f20","dx":262.3}}
]}
]}
],
"config":{
"font":"Liberation Sans",
"view":{"stroke":"#4d4d4d","strokeWidth":1},
"axis":{"grid":false,"labelFont":"Liberation Sans","labelFontSize":4,"labelColor":"#333","titleFont":"Liberation Sans","titleFontSize":4.5,"titleFontWeight":"normal","titleColor":"#333","domainColor":"#222","domainWidth":0.8,"tickColor":"#222","tickWidth":0.6,"labelPadding":1,"titlePadding":1.5,"labelOverlap":false,"labelFlush":false},
"axisY":{"tickSize":2,"titlePadding":1},
"legend":{"disable":true}
}
}
